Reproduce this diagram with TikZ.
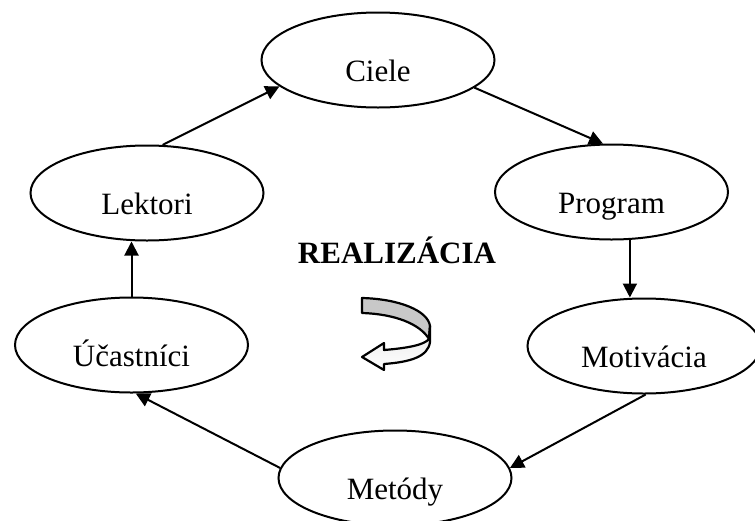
\documentclass[tikz,border=0pt]{standalone}
\usepackage{fontspec}
\setmainfont{Liberation Serif}
\usetikzlibrary{arrows.meta,shapes.geometric}
\definecolor{ink}{HTML}{000000}
\definecolor{fold}{HTML}{C8C8C8}

\begin{document}
\begin{tikzpicture}[x=0.5pt, y=-0.5pt,
  stage/.style={ellipse, draw=ink, line width=1pt, minimum width=116.5pt, minimum height=47.5pt, inner sep=0pt, text height=21pt, text depth=0pt, font=\fontsize{15.5}{18}\selectfont},
  arr/.style={-{Triangle[length=7pt, width=7pt]}, line width=1pt, ink}]
\useasboundingbox (0,0) rectangle (755,520);
\node[stage] (ciele) at (378,60) {Ciele};
\node[stage] (prog) at (611.5,192) {Program};
\node[stage] (mot) at (644,346) {Motivácia};
\node[stage] (met) at (395,478) {Metódy};
\node[stage] (ucast) at (131.5,345) {Účastníci};
\node[stage] (lek) at (147,193) {Lektori};
\node[anchor=base, font=\fontsize{15.5}{18}\selectfont\bfseries] (real) at (397,263) {REALIZÁCIA};
% turning arrow in the middle
\filldraw[fill=fold, line width=1.1pt, line join=round] (362,298) .. controls (400,299) and (428,311) .. (430,326) -- (429,339) .. controls (420,324) and (395,314) .. (362,313) -- cycle;
\draw[top color=fold!40, bottom color=white, line width=1.1pt, line join=round] (430,326) -- (430,342) .. controls (428,357) and (410,362) .. (384,364) -- (384,370) -- (362,357) -- (384,343) -- (384,350) .. controls (408,348) and (424,345) .. (429,339) -- cycle;
\draw[arr] (lek.72) -- (ciele.195);
\draw[arr] (ciele.344) -- (prog.100);
\draw[arr] (prog.291) -- (prog.291 |- mot.north);
\draw[arr] (mot.272) -- (met.5);
\draw[arr] (met.175) -- (ucast.275);
\draw[arr] (ucast.north) -- (ucast.north |- lek.south);
\end{tikzpicture}
\end{document}
